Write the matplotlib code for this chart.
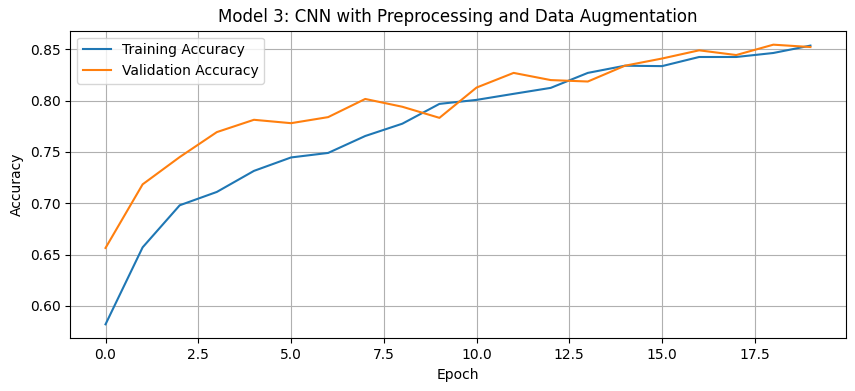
import matplotlib
matplotlib.use("Agg")
import matplotlib.pyplot as plt

epochs = list(range(20))
train_acc = [0.582, 0.657, 0.698, 0.711, 0.7315, 0.7446, 0.749, 0.7655, 0.7775, 0.7968,
             0.8007, 0.8066, 0.8124, 0.827, 0.834, 0.8336, 0.8425, 0.8425, 0.8464, 0.8536]
val_acc = [0.6564, 0.7184, 0.745, 0.7693, 0.7813, 0.778, 0.7839, 0.8016, 0.794, 0.7832,
           0.8127, 0.827, 0.820, 0.8186, 0.834, 0.841, 0.849, 0.8444, 0.8545, 0.8522]

fig = plt.figure(figsize=(8.55, 3.91), dpi=100)
ax = fig.add_axes([0.0822, 0.1348, 0.9891 - 0.0822, 0.9215 - 0.1348])
ax.plot(epochs, train_acc, label="Training Accuracy")
ax.plot(epochs, val_acc, label="Validation Accuracy")
ax.set_title("Model 3: CNN with Preprocessing and Data Augmentation")
ax.set_xlabel("Epoch")
ax.set_ylabel("Accuracy")
ax.legend(loc="upper left")
ax.grid(True)
fig.savefig("out.png", dpi=100)
